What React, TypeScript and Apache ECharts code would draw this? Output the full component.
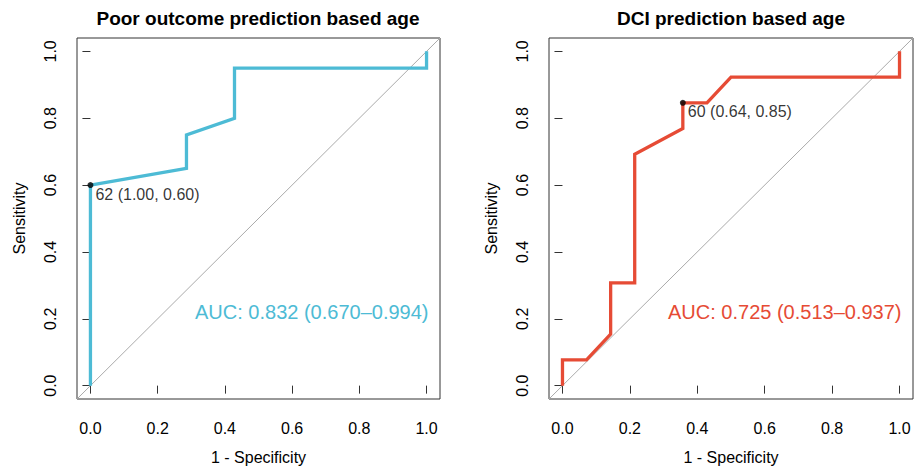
import React, { useEffect, useRef } from "react";
import * as echarts from "echarts";

// ---- data ----
const titles = ["Poor outcome prediction based age", "DCI prediction based age"];
const aucLabels = ["AUC: 0.832 (0.670–0.994)", "AUC: 0.725 (0.513–0.937)"];
const colors = ["#4DBBD5", "#E64B35"];

// 1 - specificity (x) and sensitivity (y)
const poorFpr = [0, 0, 0.2857, 0.2857, 0.4286, 0.4286, 1, 1];
const poorTpr = [0, 0.6, 0.65, 0.75, 0.8, 0.95, 0.95, 1];
const dciFpr = [0, 0, 0.0714, 0.1429, 0.1429, 0.2143, 0.2143, 0.3571, 0.3571, 0.4286, 0.5, 1, 1];
const dciTpr = [0, 0.0769, 0.0769, 0.1538, 0.3077, 0.3077, 0.6923, 0.7692, 0.8462, 0.8462, 0.9231, 0.9231, 1];

// best thresholds
const poorBest = [0, 0.6];
const poorBestLabel = "62 (1.00, 0.60)";
const dciBest = [0.3571, 0.8462];
const dciBestLabel = "60 (0.64, 0.85)";

const tickValues = [0, 0.2, 0.4, 0.6, 0.8, 1.0];
const diagonal = [-0.04, 1.04];

const FONT = "Liberation Sans, Arial, Helvetica, sans-serif";

function zip(a: number[], b: number[]) {
  return a.map((v, i) => [v, b[i]]);
}

export default function App() {
  const ref = useRef<HTMLDivElement>(null);
  useEffect(() => {
    if (!ref.current) return;
    const chart = echarts.init(ref.current, null, { renderer: "svg" });

    const grids = [
      { left: 77, top: 38, width: 363, height: 364 },
      { left: 549, top: 38, width: 364, height: 364 },
    ];

    const mkX = (gi: number) => ({
      type: "value",
      gridIndex: gi,
      min: -0.04,
      max: 1.04,
      name: "1 - Specificity",
      nameLocation: "middle",
      nameGap: 50,
      nameTextStyle: { fontSize: 16, color: "#000", fontFamily: FONT },
      axisLine: { show: false },
      splitLine: { show: false },
      axisTick: {
        show: true,
        length: 8,
        customValues: tickValues,
        lineStyle: { color: "#333", width: 1 },
      },
      axisLabel: {
        customValues: tickValues,
        formatter: (v: number) => v.toFixed(1),
        fontSize: 16,
        color: "#000",
        fontFamily: FONT,
        margin: 21,
      },
    });
    const mkY = (gi: number) => ({
      type: "value",
      gridIndex: gi,
      min: -0.04,
      max: 1.04,
      name: "Sensitivity",
      nameLocation: "middle",
      nameGap: 50,
      nameTextStyle: { fontSize: 16, color: "#000", fontFamily: FONT },
      axisLine: { show: false },
      splitLine: { show: false },
      axisTick: {
        show: true,
        length: 8,
        customValues: tickValues,
        lineStyle: { color: "#333", width: 1 },
      },
      axisLabel: {
        customValues: tickValues,
        formatter: (v: number) => v.toFixed(1),
        fontSize: 16,
        color: "#000",
        fontFamily: FONT,
        rotate: 90,
        margin: 19,
      },
    });

    const diag = (gi: number) => ({
      type: "line",
      xAxisIndex: gi,
      yAxisIndex: gi,
      data: zip(diagonal, diagonal),
      symbol: "none",
      lineStyle: { color: "#AAAAAA", width: 1 },
      silent: true,
      z: 1,
    });
    const curve = (gi: number, x: number[], y: number[]) => ({
      type: "line",
      xAxisIndex: gi,
      yAxisIndex: gi,
      data: zip(x, y),
      symbol: "none",
      lineStyle: { color: colors[gi], width: 3.3, cap: "butt", join: "miter" },
      z: 2,
    });
    const best = (gi: number, pt: number[], label: string) => ({
      type: "scatter",
      xAxisIndex: gi,
      yAxisIndex: gi,
      data: [pt],
      symbol: "circle",
      symbolSize: 6,
      itemStyle: { color: "#000" },
      label: {
        show: true,
        formatter: label,
        position: [8, 4],
        align: "left",
        verticalAlign: "top",
        fontSize: 16,
        color: "#000",
        fontFamily: FONT,
      },
      z: 3,
    });

    chart.setOption({
      animation: false,
      backgroundColor: "#fff",
      textStyle: { fontFamily: FONT },
      grid: grids.map((g) => ({
        ...g,
        show: true,
        borderColor: "#333",
        borderWidth: 1,
        backgroundColor: "transparent",
      })),
      xAxis: [mkX(0), mkX(1)],
      yAxis: [mkY(0), mkY(1)],
      series: [
        diag(0),
        curve(0, poorFpr, poorTpr),
        best(0, poorBest, poorBestLabel),
        diag(1),
        curve(1, dciFpr, dciTpr),
        best(1, dciBest, dciBestLabel),
      ],
      graphic: [
        {
          type: "text",
          x: 258,
          y: 18.6,
          style: {
            text: titles[0],
            fontSize: 19,
            fontWeight: "bold",
            fontFamily: FONT,
            fill: "#000",
            align: "center",
            verticalAlign: "middle",
          },
        },
        {
          type: "text",
          x: 731,
          y: 18.6,
          style: {
            text: titles[1],
            fontSize: 19,
            fontWeight: "bold",
            fontFamily: FONT,
            fill: "#000",
            align: "center",
            verticalAlign: "middle",
          },
        },
        {
          type: "text",
          x: 428.5,
          y: 312.3,
          style: {
            text: aucLabels[0],
            fontSize: 20,
            fontFamily: FONT,
            fill: colors[0],
            align: "right",
            verticalAlign: "middle",
          },
        },
        {
          type: "text",
          x: 901.5,
          y: 312.3,
          style: {
            text: aucLabels[1],
            fontSize: 20,
            fontFamily: FONT,
            fill: colors[1],
            align: "right",
            verticalAlign: "middle",
          },
        },
      ],
    });
    return () => chart.dispose();
  }, []);
  return (
    <div
      ref={ref}
      style={{ position: "fixed", left: 0, top: 0, width: 914, height: 470, background: "#fff" }}
    />
  );
}
